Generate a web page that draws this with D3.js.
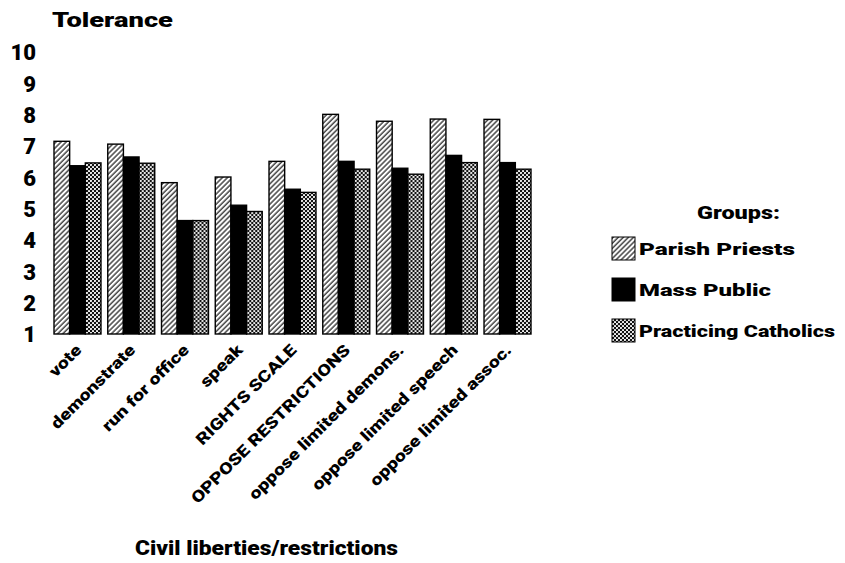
<!DOCTYPE html>
<html>
<head>
<meta charset="utf-8">
<script src="https://cdn.jsdelivr.net/npm/d3@7"></script>
<style>
    body { margin: 0; background: #fff; }
    svg text { font-family: Roboto, "DejaVu Sans", sans-serif; font-weight: 900; fill: #000; }
</style>
</head>
<body>
<svg id="chart"></svg>
<script>
var categories = ['vote', 'demonstrate', 'run for office', 'speak', 'RIGHTS SCALE',
    'OPPOSE RESTRICTIONS', 'oppose limited demons.', 'oppose limited speech', 'oppose limited assoc.'];
var groups = ['Parish Priests', 'Mass Public', 'Practicing Catholics'];
var priests = [7.15, 7.06, 5.83, 6.01, 6.51, 8.01, 7.79, 7.86, 7.85];
var massPublic = [6.37, 6.65, 4.62, 5.11, 5.62, 6.51, 6.29, 6.70, 6.47];
var catholics = [6.46, 6.45, 4.62, 4.91, 5.52, 6.26, 6.10, 6.47, 6.26];
var yTicks = [1, 2, 3, 4, 5, 6, 7, 8, 9, 10];

var width = 845, height = 563;
var series = [priests, massPublic, catholics];
var fills = ['url(#hatch)', '#000', 'url(#check)'];

var svg = d3.select('#chart')
    .attr('width', width)
    .attr('height', height);

// patterns
var defs = svg.append('defs');
var hatch = defs.append('pattern')
    .attr('id', 'hatch')
    .attr('patternUnits', 'userSpaceOnUse')
    .attr('width', 3.6).attr('height', 3.6)
    .attr('patternTransform', 'rotate(45)');
hatch.append('rect').attr('width', 3.6).attr('height', 3.6).attr('fill', '#fff');
hatch.append('line')
    .attr('x1', 1).attr('y1', 0).attr('x2', 1).attr('y2', 3.6)
    .attr('stroke', '#000').attr('stroke-width', 1.1);

var check = defs.append('pattern')
    .attr('id', 'check')
    .attr('patternUnits', 'userSpaceOnUse')
    .attr('width', 4).attr('height', 4);
check.append('rect').attr('width', 4).attr('height', 4).attr('fill', '#111');
check.append('circle').attr('cx', 1).attr('cy', 1).attr('r', 1.05).attr('fill', '#fff');
check.append('circle').attr('cx', 3).attr('cy', 3).attr('r', 1.05).attr('fill', '#fff');

var xScale = d3.scaleBand()
    .domain(categories)
    .range([54, 531])
    .paddingInner(0.126)
    .paddingOuter(0);
var xInner = d3.scaleBand()
    .domain(d3.range(groups.length))
    .range([0, xScale.bandwidth()]);
var yScale = d3.scaleLinear()
    .domain([1, 10])
    .range([334, 52]);

// bars
var rows = categories.map(function(c, i) {
    return series.map(function(s, j) { return {cat: c, g: j, v: s[i]}; });
});
svg.append('g').selectAll('g')
    .data(rows)
    .join('g')
    .attr('transform', function(d) { return 'translate(' + xScale(d[0].cat) + ',0)'; })
    .selectAll('rect')
    .data(function(d) { return d; })
    .join('rect')
    .attr('x', function(d) { return xInner(d.g); })
    .attr('width', xInner.bandwidth())
    .attr('y', function(d) { return yScale(d.v); })
    .attr('height', function(d) { return yScale(1) - yScale(d.v); })
    .attr('fill', function(d) { return fills[d.g]; })
    .attr('stroke', '#000')
    .attr('stroke-width', 1.4);

// y axis, labels only
var yAxis = d3.axisLeft(yScale)
    .tickValues(yTicks)
    .tickSize(0)
    .tickPadding(0)
    .tickFormat(d3.format('d'));
var yg = svg.append('g')
    .attr('transform', 'translate(36,0)')
    .call(yAxis);
yg.select('.domain').remove();
yg.selectAll('text')
    .style('font-size', '22px')
    .attr('dy', '0.36em');

// x labels, rotated and stretched a bit (wide black face in the original)
svg.append('g').selectAll('text')
    .data(categories)
    .join('text')
    .attr('transform', function(d) {
        var x = xScale(d) + xScale.bandwidth() / 2 + 5;
        return 'translate(' + x + ',351) rotate(-45) scale(1.22,1)';
    })
    .attr('text-anchor', 'end')
    .style('font-size', '16px')
    .text(function(d) { return d; });

// titles
svg.append('text')
    .attr('x', 52).attr('y', 27)
    .attr('textLength', 121).attr('lengthAdjust', 'spacingAndGlyphs')
    .style('font-size', '21px')
    .text('Tolerance');
svg.append('text')
    .attr('x', 135).attr('y', 555)
    .attr('textLength', 263).attr('lengthAdjust', 'spacingAndGlyphs')
    .style('font-size', '21px')
    .text('Civil liberties/restrictions');

// legend
var legend = svg.append('g');
legend.append('text')
    .attr('x', 697).attr('y', 219)
    .attr('textLength', 83).attr('lengthAdjust', 'spacingAndGlyphs')
    .style('font-size', '18px')
    .text('Groups:');
var legendWidths = [156, 132, 196];
var item = legend.selectAll('g.item')
    .data(groups)
    .join('g')
    .attr('class', 'item')
    .attr('transform', function(d, i) { return 'translate(612,' + (237 + i * 41) + ')'; });
item.append('rect')
    .attr('width', 23).attr('height', 23)
    .attr('fill', function(d, i) { return fills[i]; })
    .attr('stroke', '#000')
    .attr('stroke-width', 1);
item.append('text')
    .attr('x', 27).attr('y', 18)
    .attr('textLength', function(d, i) { return legendWidths[i]; })
    .attr('lengthAdjust', 'spacingAndGlyphs')
    .style('font-size', '17px')
    .text(function(d) { return d; });
</script>
</body>
</html>
